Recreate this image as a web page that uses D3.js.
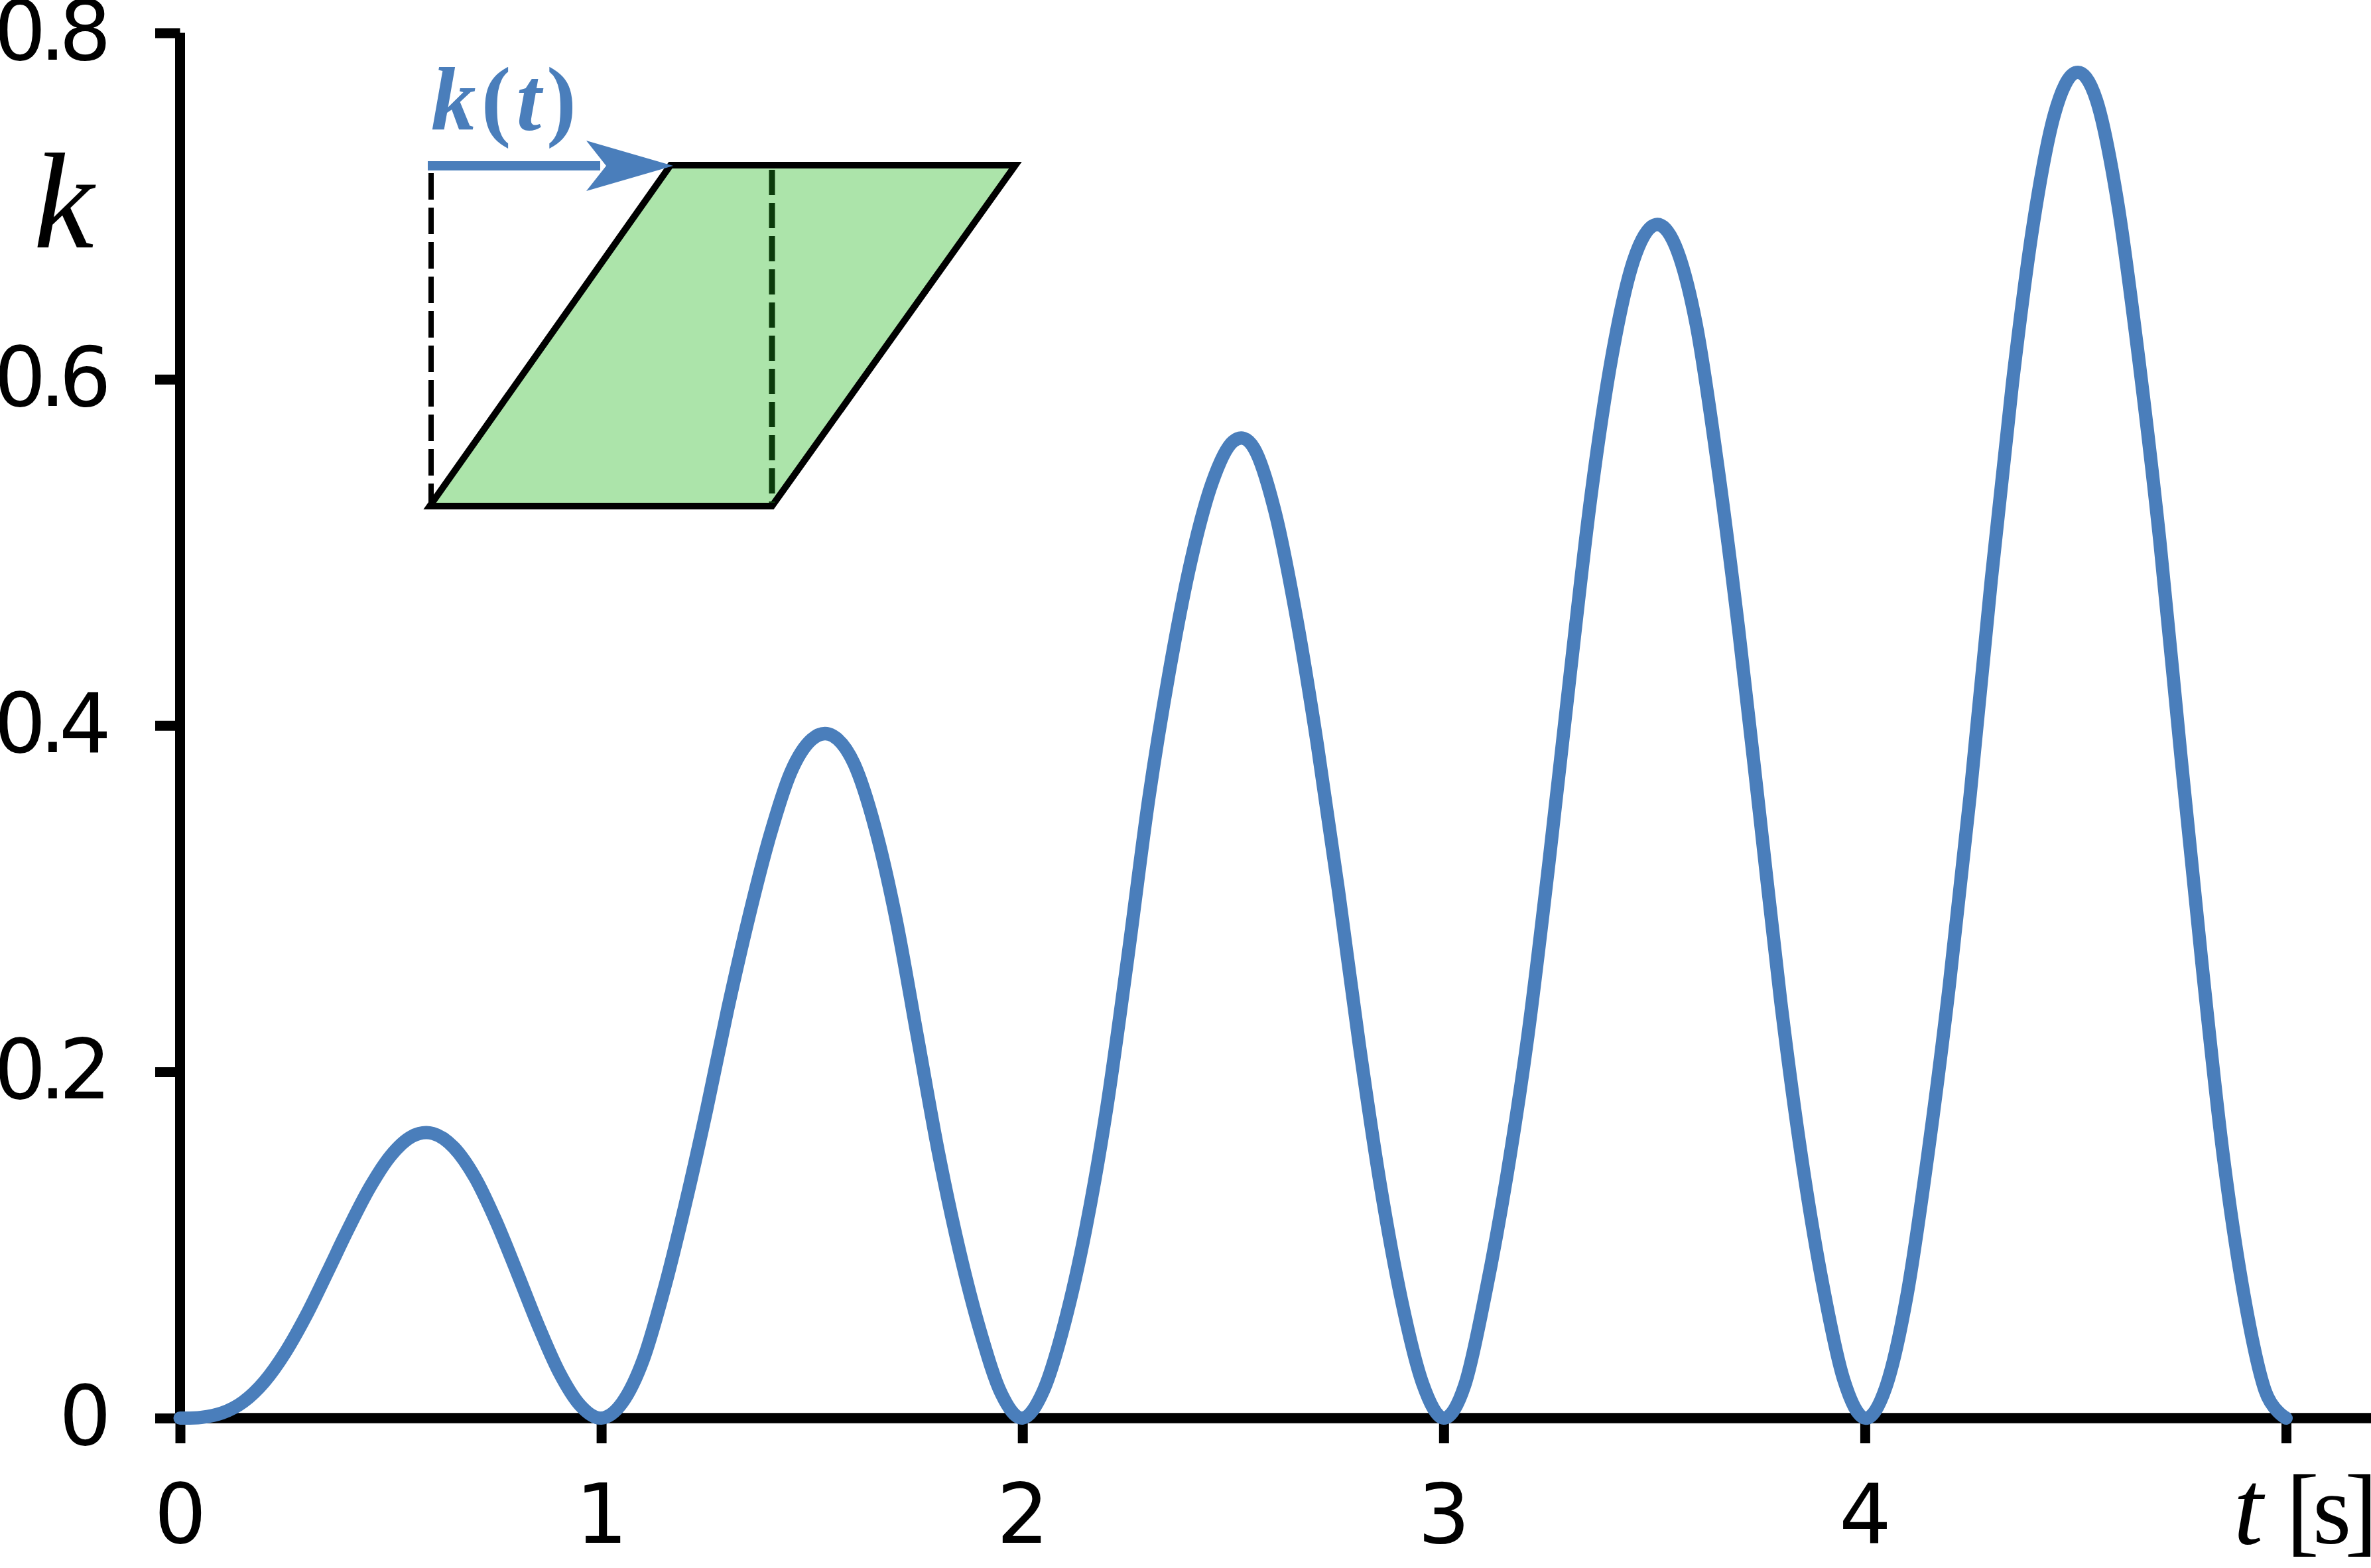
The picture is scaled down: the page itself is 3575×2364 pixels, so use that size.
<!DOCTYPE html>
<html>
<head>
<meta charset="utf-8">
<script src="https://cdn.jsdelivr.net/npm/d3@7"></script>
<style>
    body { margin: 0; background: #fff; }
    svg { display: block; }
</style>
</head>
<body>
<div id="svgcontainer"></div>
<script>
// k(t), Schrittweite 0.05 s (je eine Zeile pro Welle)
var zeitWerte = d3.range(0, 101).map(function (i) { return i / 20; });
var kWerte = [
    0, 0.0004, 0.003, 0.0094, 0.021, 0.038, 0.0595, 0.0843, 0.1096, 0.133, 0.1515, 0.1626, 0.1644, 0.1563, 0.139, 0.1138, 0.0842, 0.0537, 0.0265, 0.0074,
    0, 0.009, 0.034, 0.075, 0.124, 0.178, 0.236, 0.289, 0.336, 0.373, 0.392, 0.394, 0.378, 0.341, 0.288, 0.221, 0.154, 0.097, 0.050, 0.014,
    0, 0.016, 0.055, 0.109, 0.179, 0.266, 0.358, 0.433, 0.495, 0.540, 0.564, 0.560, 0.523, 0.463, 0.389, 0.305, 0.215, 0.134, 0.068, 0.020,
    0, 0.019, 0.073, 0.140, 0.221, 0.321, 0.429, 0.533, 0.614, 0.668, 0.689, 0.677, 0.631, 0.551, 0.456, 0.349, 0.241, 0.150, 0.077, 0.022,
    0, 0.018, 0.071, 0.153, 0.249, 0.360, 0.484, 0.597, 0.690, 0.753, 0.777, 0.761, 0.702, 0.612, 0.507, 0.383, 0.263, 0.153, 0.071, 0.016,
    0
];

var xTicks = [0, 1, 2, 3, 4, 5];
var xTickLabels = ["0", "1", "2", "3", "4", ""];
var yTicks = [0, 0.2, 0.4, 0.6, 0.8];
var yTickLabels = ["0", "0.2", "0.4", "0.6", "0.8"];

var blau = "#4a7ebb";
var serif = "'Liberation Serif', 'Times New Roman', serif";

function createSvg() {
    var width = 3575;
    var height = 2364;
    var svg = d3.select("#svgcontainer")
        .append("svg")
        .attr("width", width)
        .attr("height", height);

    svg.append("rect")
        .attr("width", width)
        .attr("height", height)
        .attr("fill", "#fff");

    var x = d3.scaleLinear().domain([0, 5]).range([271.5, 3447]);
    var y = d3.scaleLinear().domain([0, 0.8]).range([2138, 49.5]);

    zeichneAchsen(svg, x, y, width);
    zeichneSkizze(svg);
    zeichneKurve(svg, x, y);
}

function zeichneAchsen(svg, x, y, width) {
    // x-Achse
    var xAxis = d3.axisBottom(x)
        .tickValues(xTicks)
        .tickFormat(function (d, i) { return xTickLabels[i]; })
        .tickSize(38)
        .tickSizeOuter(0)
        .tickPadding(62);
    var gx = svg.append("g")
        .attr("transform", "translate(0," + y(0) + ")")
        .call(xAxis);
    gx.select(".domain").remove();
    gx.selectAll(".tick line").attr("stroke", "#000").attr("stroke-width", 15);
    gx.selectAll(".tick text")
        .attr("font-family", "DejaVu Sans")
        .attr("font-size", 124)
        .attr("fill", "#000");

    // y-Achse
    var yAxis = d3.axisLeft(y)
        .tickValues(yTicks)
        .tickFormat(function (d, i) { return yTickLabels[i]; })
        .tickSize(37.5)
        .tickSizeOuter(0)
        .tickPadding(76);
    var gy = svg.append("g")
        .attr("transform", "translate(" + x(0) + ",0)")
        .call(yAxis);
    gy.select(".domain").remove();
    gy.selectAll(".tick line").attr("stroke", "#000").attr("stroke-width", 15);
    gy.selectAll(".tick text")
        .attr("font-family", "DejaVu Sans")
        .attr("font-size", 124)
        .attr("letter-spacing", -10)
        .attr("fill", "#000");

    // Achslinien
    svg.append("line")
        .attr("x1", x(0)).attr("x2", x(0))
        .attr("y1", y(0.8)).attr("y2", y(0))
        .attr("stroke", "#000")
        .attr("stroke-width", 15);
    svg.append("line")
        .attr("x1", x(0)).attr("x2", width)
        .attr("y1", y(0)).attr("y2", y(0))
        .attr("stroke", "#000")
        .attr("stroke-width", 15.5);

    // Beschriftungen k und t [s]
    svg.append("text")
        .attr("x", 96)
        .attr("y", 373)
        .attr("text-anchor", "middle")
        .attr("font-family", serif)
        .attr("font-style", "italic")
        .attr("font-size", 205)
        .text("k");

    svg.append("text")
        .attr("x", 3390)
        .attr("y", 2327)
        .attr("text-anchor", "middle")
        .attr("font-family", serif)
        .attr("font-style", "italic")
        .attr("font-size", 160)
        .text("t");
    svg.append("text")
        .attr("x", 3447)
        .attr("y", 2327)
        .attr("font-family", serif)
        .attr("font-size", 150)
        .attr("letter-spacing", -10)
        .text("[s]");
}

function zeichneSkizze(svg) {
    // gestrichelte Linie links (Ausgangslage)
    svg.append("line")
        .attr("x1", 650).attr("x2", 650)
        .attr("y1", 261).attr("y2", 763)
        .attr("stroke", "#000")
        .attr("stroke-width", 8)
        .attr("stroke-dasharray", "40,12");

    // geschertes Element
    var ecken = [[648, 763], [1164, 763], [1531, 249], [1011, 249]];
    svg.append("polygon")
        .attr("points", ecken.map(function (p) { return p.join(","); }).join(" "))
        .attr("fill", "#ace4aa")
        .attr("stroke", "#000")
        .attr("stroke-width", 10)
        .attr("stroke-linejoin", "miter");

    // dunkelgruene Strichlinie
    svg.append("line")
        .attr("x1", 1164).attr("x2", 1164)
        .attr("y1", 256).attr("y2", 758)
        .attr("stroke", "#0b3a0b")
        .attr("stroke-width", 9)
        .attr("stroke-dasharray", "38,12");

    // Pfeil k(t)
    svg.append("line")
        .attr("x1", 645).attr("x2", 905)
        .attr("y1", 250).attr("y2", 250)
        .attr("stroke", blau)
        .attr("stroke-width", 14);
    svg.append("polygon")
        .attr("points", "1015,250 884,212 914,250 884,288")
        .attr("fill", blau);

    var label = svg.append("text")
        .attr("x", 650)
        .attr("y", 195)
        .attr("font-family", serif)
        .attr("font-weight", "bold")
        .attr("font-size", 135)
        .attr("letter-spacing", 8)
        .attr("fill", blau);
    label.append("tspan").attr("font-style", "italic").text("k");
    label.append("tspan").text("(");
    label.append("tspan").attr("font-style", "italic").text("t");
    label.append("tspan").text(")");
}

function zeichneKurve(svg, x, y) {
    var punkte = zeitWerte.map(function (t, i) { return { t: t, k: kWerte[i] }; });
    // gleichmaessige Catmull-Rom-Kurve, da die Punkte in t gleichabstaendig sind
    var linie = d3.line()
        .x(function (d) { return x(d.t); })
        .y(function (d) { return y(d.k); })
        .curve(d3.curveCatmullRom.alpha(0));
    svg.append("path")
        .datum(punkte)
        .attr("d", linie)
        .attr("fill", "none")
        .attr("stroke", blau)
        .attr("stroke-width", 20)
        .attr("stroke-linecap", "round")
        .attr("stroke-linejoin", "round");
}

createSvg();
</script>
</body>
</html>
